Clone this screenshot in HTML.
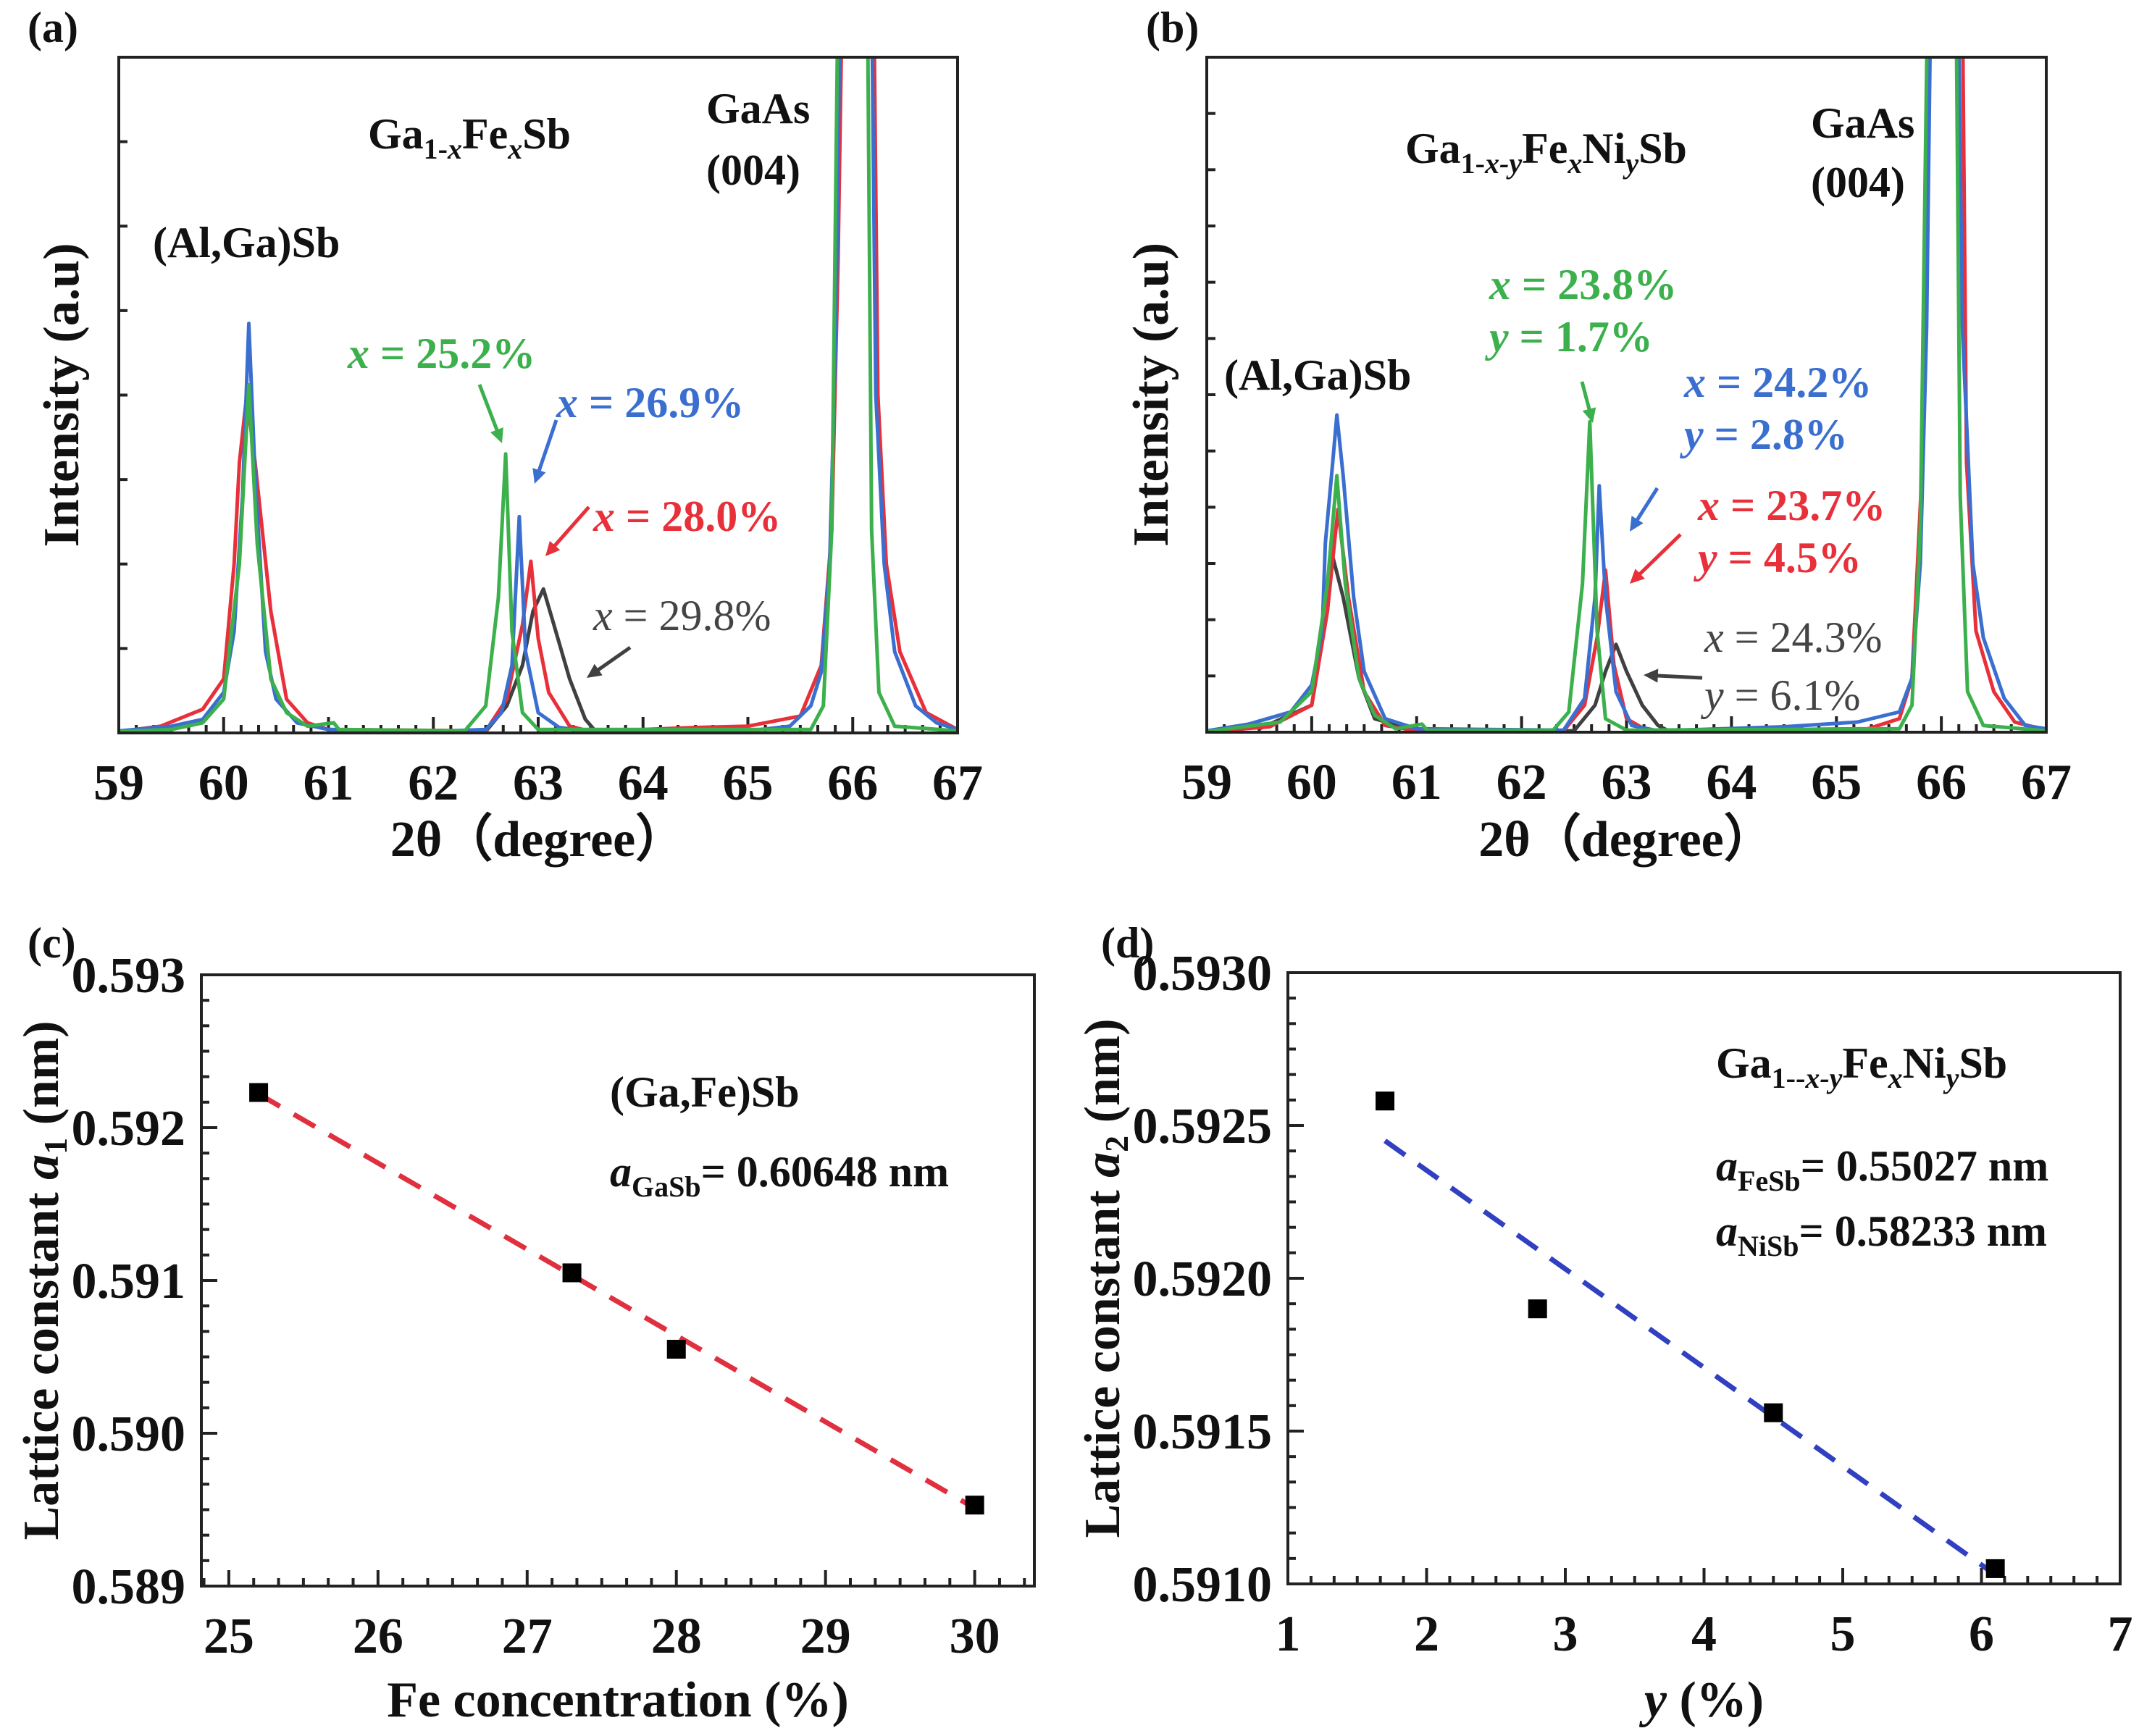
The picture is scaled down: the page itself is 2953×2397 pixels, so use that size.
<!DOCTYPE html>
<html><head><meta charset="utf-8"><style>
html,body{margin:0;padding:0;background:#fff}
svg{display:block}
text{font-family:"Liberation Serif","DejaVu Serif",serif;font-weight:bold;fill:#111}
</style></head><body>
<svg id="fig" xmlns="http://www.w3.org/2000/svg" width="2953" height="2397" viewBox="0 0 2953 2397">
<g id="labels">
<text x="38" y="58" font-size="60">(a)</text>
<text x="1582" y="58" font-size="60">(b)</text>
<text x="38" y="1322" font-size="60">(c)</text>
<text x="1520" y="1322" font-size="60">(d)</text>

<text x="508" y="205" font-size="60">Ga<tspan font-size="40" dy="14">1-<tspan font-style="italic">x</tspan></tspan><tspan dy="-14">Fe</tspan><tspan font-size="40" dy="14" font-style="italic">x</tspan><tspan dy="-14">Sb</tspan></text>
<text x="975" y="170" font-size="60">GaAs</text>
<text x="975" y="255" font-size="60">(004)</text>
<text x="211" y="355" font-size="60">(Al,Ga)Sb</text>
<text x="480" y="508" font-size="60" style="fill:#3cb04c"><tspan font-style="italic">x</tspan> = 25.2%</text>
<text x="768" y="576" font-size="60" style="fill:#3a6fd0"><tspan font-style="italic">x</tspan> = 26.9%</text>
<text x="819" y="733" font-size="60" style="fill:#e8303a"><tspan font-style="italic">x</tspan> = 28.0%</text>
<text x="819" y="870" font-size="60" style="fill:#444;font-weight:normal"><tspan font-style="italic">x</tspan> = 29.8%</text>

<text x="1940" y="225" font-size="60">Ga<tspan font-size="40" dy="14">1-<tspan font-style="italic">x-y</tspan></tspan><tspan dy="-14">Fe</tspan><tspan font-size="40" dy="14" font-style="italic">x</tspan><tspan dy="-14">Ni</tspan><tspan font-size="40" dy="14" font-style="italic">y</tspan><tspan dy="-14">Sb</tspan></text>
<text x="2500" y="190" font-size="60">GaAs</text>
<text x="2500" y="272" font-size="60">(004)</text>
<text x="1690" y="538" font-size="60">(Al,Ga)Sb</text>
<text x="2056" y="413" font-size="60" style="fill:#3cb04c"><tspan font-style="italic">x</tspan> = 23.8%</text>
<text x="2056" y="485" font-size="60" style="fill:#3cb04c"><tspan font-style="italic">y</tspan> = 1.7%</text>
<text x="2325" y="548" font-size="60" style="fill:#3a6fd0"><tspan font-style="italic">x</tspan> = 24.2%</text>
<text x="2325" y="620" font-size="60" style="fill:#3a6fd0"><tspan font-style="italic">y</tspan> = 2.8%</text>
<text x="2344" y="718" font-size="60" style="fill:#e8303a"><tspan font-style="italic">x</tspan> = 23.7%</text>
<text x="2344" y="790" font-size="60" style="fill:#e8303a"><tspan font-style="italic">y</tspan> = 4.5%</text>
<text x="2353" y="900" font-size="60" style="fill:#444;font-weight:normal"><tspan font-style="italic">x</tspan> = 24.3%</text>
<text x="2353" y="980" font-size="60" style="fill:#444;font-weight:normal"><tspan font-style="italic">y</tspan> = 6.1%</text>

<text x="842" y="1528" font-size="60">(Ga,Fe)Sb</text>
<text x="842" y="1638" font-size="60"><tspan font-style="italic">a</tspan><tspan font-size="40" dy="14">GaSb</tspan><tspan dy="-14">= 0.60648 nm</tspan></text>
<text x="2369" y="1488" font-size="60">Ga<tspan font-size="40" dy="14">1--<tspan font-style="italic">x-y</tspan></tspan><tspan dy="-14">Fe</tspan><tspan font-size="40" dy="14" font-style="italic">x</tspan><tspan dy="-14">Ni</tspan><tspan font-size="40" dy="14" font-style="italic">y</tspan><tspan dy="-14">Sb</tspan></text>
<text x="2369" y="1630" font-size="60"><tspan font-style="italic">a</tspan><tspan font-size="40" dy="14">FeSb</tspan><tspan dy="-14">= 0.55027 nm</tspan></text>
<text x="2369" y="1720" font-size="60"><tspan font-style="italic">a</tspan><tspan font-size="40" dy="14">NiSb</tspan><tspan dy="-14">= 0.58233 nm</tspan></text>
</g>
</svg>
<script>
// ---- Panel (a) data: [2theta, intensity % of frame] ----
const aBlue=[[59,0.3],[59.5,1],[59.8,2],[60.0,6],[60.1,15],[60.18,35],[60.24,60.6],[60.3,38],[60.4,12],[60.5,5],[60.7,1.5],[61,0.5],[62,0.2],[62.5,0.5],[62.65,3],[62.75,10],[62.82,32],[62.88,12],[63.0,3],[63.2,0.8],[63.5,0.2],[64.5,0.2],[65,0.3],[65.4,1],[65.6,4],[65.7,9],[65.78,25],[65.84,60],[65.88,110],[66.18,110],[66.22,50],[66.3,25],[66.4,12],[66.6,4],[66.8,1.5],[67,0.5]];
const aRed=[[59,0.2],[59.4,1],[59.8,3.5],[60.0,8],[60.1,25],[60.15,40],[60.22,50],[60.3,40],[60.45,18],[60.6,5],[60.8,1.5],[61,0.5],[62.5,0.3],[62.7,5],[62.85,16],[62.93,25.4],[63.0,14],[63.1,6],[63.3,1],[63.5,0.2],[64.5,0.8],[65.0,1],[65.5,2.5],[65.7,10],[65.8,30],[65.86,70],[65.9,110],[66.2,110],[66.24,50],[66.32,25],[66.45,12],[66.7,3],[67,0.5]];
const aGreen=[[59,0.2],[59.5,0.5],[59.8,1.5],[60.0,5],[60.15,25],[60.24,51.5],[60.32,28],[60.45,8],[60.6,3],[60.8,1],[61.05,1.5],[61.1,0.5],[62.3,0.3],[62.5,4],[62.62,20],[62.69,41.3],[62.75,15],[62.85,3],[63,0.5],[65.6,0.5],[65.72,4],[65.8,30],[65.86,110],[66.14,110],[66.18,30],[66.25,6],[66.4,1],[67,0.3]];
const aGray=[[62.5,0.2],[62.7,4],[62.85,10],[62.95,18],[63.05,21.3],[63.15,16],[63.3,8],[63.45,2],[63.55,0.2]];
// ---- Panel (b) data ----
const bBlue=[[59,0.2],[59.4,1.2],[59.8,3],[60.0,7],[60.1,15],[60.13,28],[60.2,40],[60.24,47],[60.3,38],[60.4,20],[60.5,9],[60.7,2],[61,0.5],[62.4,0.3],[62.6,5],[62.7,20],[62.74,36.5],[62.8,20],[62.9,6],[63.05,1],[63.3,0.2],[64.5,0.8],[65.2,1.5],[65.6,3],[65.72,8],[65.8,25],[65.86,60],[65.9,110],[66.16,110],[66.2,60],[66.3,25],[66.4,14],[66.6,5],[66.8,1],[67,0.5]];
const bGreen=[[59,0.1],[59.7,1.5],[60.0,6],[60.15,22],[60.24,38],[60.32,22],[60.45,8],[60.6,2.5],[60.8,0.5],[61.05,1.2],[61.1,0.3],[62.3,0.3],[62.45,3],[62.58,22],[62.65,46],[62.72,15],[62.8,2],[63,0.3],[65.6,0.5],[65.72,4],[65.8,30],[65.87,110],[66.14,110],[66.18,35],[66.25,6],[66.4,1],[67,0.2]];
const bRed=[[59,0.1],[59.6,0.8],[60.0,4],[60.15,18],[60.25,33],[60.35,20],[60.5,6],[60.7,1],[61,0.2],[62.4,0.2],[62.6,4],[62.72,14],[62.8,24],[62.88,10],[63,2],[63.2,0.2],[65.3,0.5],[65.6,2],[65.72,8],[65.82,40],[65.9,110],[66.2,110],[66.24,40],[66.33,15],[66.5,6],[66.7,1.5],[67,0.3]];
const bGray=[[59.5,0.5],[60.0,4],[60.15,18],[60.2,26],[60.3,20],[60.45,8],[60.6,2],[61,0.2],[62.5,0.2],[62.7,4],[62.8,9],[62.9,13],[63.0,9],[63.15,4],[63.3,1],[63.4,0.2]];
const xrdTicks=[59,60,61,62,63,64,65,66,67];
// ---- Panel (c) data ----
const cFe=[25.2,27.3,28.0,30.0];
const cLattice=[0.59223,0.59105,0.59055,0.58953];
const cFitX=[25.2,30.0];
const cFitY=[0.59222,0.58951];
const cXTicks=[25,26,27,28,29,30];
const cYTicks=[0.589,0.590,0.591,0.592,0.593];
const cYLabels=["0.589","0.590","0.591","0.592","0.593"];
// ---- Panel (d) data ----
const dY=[1.7,2.8,4.5,6.1];
const dLattice=[0.59258,0.59190,0.59156,0.59105];
const dFitX=[1.7,6.1];
const dFitY=[0.59245,0.59103];
const dXTicks=[1,2,3,4,5,6,7];
const dYTicks=[0.5910,0.5915,0.5920,0.5925,0.5930];
const dYLabels=["0.5910","0.5915","0.5920","0.5925","0.5930"];

const NS="http://www.w3.org/2000/svg";
const svg=document.getElementById('fig');
function mk(tag,attrs,parent){const e=document.createElementNS(NS,tag);for(const k in attrs)e.setAttribute(k,attrs[k]);(parent||svg).appendChild(e);return e;}
function scale(d0,d1,r0,r1){return v=>r0+(v-d0)/(d1-d0)*(r1-r0);}

function panel(P){
  const g=mk('g',{});
  
  
  const sx=scale(P.xmin,P.xmax,P.L,P.R), sy=scale(P.ymin,P.ymax,P.B,P.T);
  const cid='clip-'+P.name;
  const cp=mk('clipPath',{id:cid},g);
  mk('rect',{x:P.L,y:P.T,width:P.R-P.L,height:P.B-P.T},cp);
  const tg=mk('g',{stroke:'#222','stroke-width':4},g);
  
  
  for(let i=0;i<P.xt.length;i++){
    const v=P.xt[i],x=sx(v);
    mk('line',{x1:x,y1:P.B,x2:x,y2:P.B-22},tg);
    if(i<P.xt.length-1){for(let k=1;k<P.xminor;k++){const xm=sx(v+(P.xt[i+1]-v)*k/P.xminor);mk('line',{x1:xm,y1:P.B,x2:xm,y2:P.B-11},tg);}}
    const t=mk('text',{x:x,y:P.B+92,'font-size':70,'text-anchor':'middle'},g);
    
    
    t.textContent=String(v);
  }
  if(P.xtail){for(let k=1;k<=P.xtail.n;k++){const xm=sx(P.xt[P.xt.length-1]+P.xtail.step*k);if(xm<P.R)mk('line',{x1:xm,y1:P.B,x2:xm,y2:P.B-11},tg);}}
  if(P.xhead){for(let k=1;k<=P.xhead.n;k++){const xm=sx(P.xt[0]-P.xhead.step*k);if(xm>P.L)mk('line',{x1:xm,y1:P.B,x2:xm,y2:P.B-11},tg);}}
  if(P.yt){
    for(let i=0;i<P.yt.length;i++){
      const v=P.yt[i],y=sy(v);
      mk('line',{x1:P.L,y1:y,x2:P.L+22,y2:y},tg);
      if(i<P.yt.length-1){for(let k=1;k<P.yminor;k++){const ym=sy(v+(P.yt[i+1]-v)*k/P.yminor);mk('line',{x1:P.L,y1:ym,x2:P.L+11,y2:ym},tg);}}
      const t=mk('text',{x:P.L-22,y:y+24,'font-size':70,'text-anchor':'end'},g);
      
      
      t.textContent=P.yl[i];
    }
  } else {
    for(let k=1;k<P.yn;k++){const y=P.B-(P.B-P.T)*k/P.yn;mk('line',{x1:P.L,y1:y,x2:P.L+12,y2:y},tg);}
  }
  const sg=mk('g',{'clip-path':'url(#'+cid+')'},g);
  (P.series||[]).forEach(s=>{
    const d=s.pts.map((p,i)=>(i?'L':'M')+sx(p[0]).toFixed(1)+' '+sy(p[1]).toFixed(1)).join(' ');
    const e=mk('path',{d:d,fill:'none',stroke:s.c,'stroke-width':5,'stroke-linejoin':'round'},sg);
    
    
  });
  if(P.fit){
    const e=mk('line',{x1:sx(P.fit.x[0]),y1:sy(P.fit.y[0]),x2:sx(P.fit.x[1]),y2:sy(P.fit.y[1]),stroke:P.fit.c,'stroke-width':7,'stroke-dasharray':'34 22'},sg);
    
    
  }
  if(P.pts){
    for(let i=0;i<P.pts.x.length;i++){
      const e=mk('rect',{x:sx(P.pts.x[i])-13,y:sy(P.pts.y[i])-13,width:26,height:26,fill:'#000'},g);
      
      
    }
  }
  const fr=mk('rect',{x:P.L,y:P.T,width:P.R-P.L,height:P.B-P.T,fill:'none',stroke:'#222','stroke-width':4},g);
  
  
  const xt=mk('text',{x:(P.L+P.R)/2,y:P.xtY,'font-size':70,'text-anchor':'middle'},g);
  
  
  xt.innerHTML=P.xtitle;
  const yt=mk('text',{x:0,y:0,'font-size':70,'text-anchor':'middle',transform:'translate('+P.ytX+','+((P.T+P.B)/2)+') rotate(-90)'},g);
  
  
  yt.innerHTML=P.ytitle;
}
const C={b:'#3a6fd0',r:'#e8303a',g:'#3cb04c',k:'#404040'};
panel({name:'panel-a',L:164,R:1322,T:79,B:1012,xmin:59,xmax:67,ymin:0,ymax:100,xt:xrdTicks,xminor:6,yn:8,
  series:[{pts:aGray,c:C.k,n:'curve-x298'},{pts:aRed,c:C.r,n:'curve-x280'},{pts:aBlue,c:C.b,n:'curve-x269'},{pts:aGreen,c:C.g,n:'curve-x252'}],
  xtY:1182,xtitle:'2θ（degree）',ytX:108,ytitle:'Intensity (a.u)'});
panel({name:'panel-b',L:1666,R:2825,T:79,B:1011,xmin:59,xmax:67,ymin:0,ymax:100,xt:xrdTicks,xminor:6,yn:12,
  series:[{pts:bGray,c:C.k,n:'curve-x243'},{pts:bRed,c:C.r,n:'curve-x237'},{pts:bBlue,c:C.b,n:'curve-x242'},{pts:bGreen,c:C.g,n:'curve-x238'}],
  xtY:1182,xtitle:'2θ（degree）',ytX:1612,ytitle:'Intensity (a.u)'});
panel({name:'panel-c',L:278,R:1428,T:1346,B:2190,xmin:24.816,xmax:30.4,ymin:0.589,ymax:0.593,xt:cXTicks,xminor:6,xtail:{n:3,step:1/6},xhead:{n:1,step:1/6},
  yt:cYTicks,yl:cYLabels,yminor:6,fit:{x:cFitX,y:cFitY,c:'#e03040'},pts:{x:cFe,y:cLattice},
  xtY:2370,xtitle:'Fe concentration (%)',ytX:80,ytitle:'Lattice constant <tspan font-style="italic">a</tspan><tspan font-size="46" dy="12">1</tspan><tspan dy="-12"> (nm)</tspan>'});
panel({name:'panel-d',L:1778,R:2927,T:1343,B:2187,xmin:1,xmax:7,ymin:0.5910,ymax:0.5930,xt:dXTicks,xminor:6,
  yt:dYTicks,yl:dYLabels,yminor:6,fit:{x:dFitX,y:dFitY,c:'#3040c0'},pts:{x:dY,y:dLattice},
  xtY:2370,xtitle:'<tspan font-style="italic">y</tspan> (%)',ytX:1545,ytitle:'Lattice constant <tspan font-style="italic">a</tspan><tspan font-size="46" dy="12">2</tspan><tspan dy="-12"> (nm)</tspan>'});

const arrows=[[662,531,693,612,C.g],[768,580,738,668,C.b],[813,700,753,768,C.r],[870,894,810,936,C.k],
 [2184,527,2199,584,C.g],[2288,674,2250,734,C.b],[2320,738,2250,806,C.r],[2350,936,2269,932,C.k]];
arrows.forEach(a=>{
  const [x1,y1,x2,y2,c]=a;const ang=Math.atan2(y2-y1,x2-x1),h=22;
  const g=mk('g',{});
  
  
  mk('line',{x1:x1,y1:y1,x2:x2-Math.cos(ang)*h*0.8,y2:y2-Math.sin(ang)*h*0.8,stroke:c,'stroke-width':5},g);
  const p1=[x2-h*Math.cos(ang-0.45),y2-h*Math.sin(ang-0.45)],p2=[x2-h*Math.cos(ang+0.45),y2-h*Math.sin(ang+0.45)];
  mk('polygon',{points:x2+','+y2+' '+p1.join(',')+' '+p2.join(','),fill:c},g);
});
</script>
</body></html>
